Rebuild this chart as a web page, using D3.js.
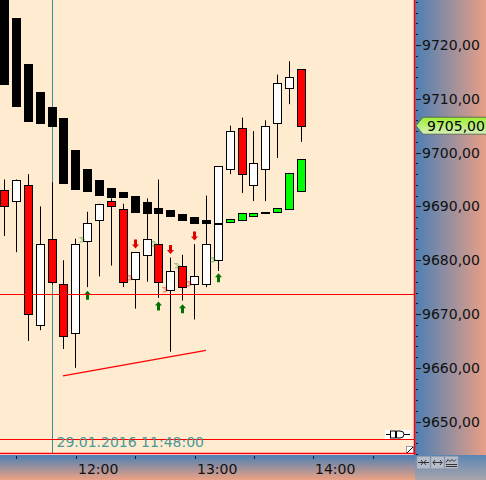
<!DOCTYPE html>
<html><head><meta charset="utf-8">
<script src="https://cdn.jsdelivr.net/npm/d3@7"></script>
<style>body{margin:0;background:#fff}svg{display:block}</style>
</head><body><svg id="c" width="486" height="480"></svg>
<script>
// ---------- data ----------
const barTimes = ["11:24","11:30","11:36","11:42","11:48","11:54","12:00","12:06","12:12","12:18","12:24","12:30","12:36","12:42","12:48","12:54","13:00","13:06","13:12","13:18","13:24","13:30","13:36","13:42","13:48","13:54"];
const opens  = [9693.0,9691.0,9694.0,9668.0,9684.0,9675.5,9666.5,9683.5,9687.5,9691.0,9689.5,9676.5,9681.0,9683.0,9674.5,9679.0,9675.5,9675.5,9680.0,9697.0,9704.5,9694.0,9697.0,9705.5,9712.0,9715.5];
const highs  = [9695.0,9695.0,9696.0,9690.0,9694.5,9680.0,9684.0,9689.0,9690.5,9691.5,9690.5,9681.5,9691.5,9695.0,9680.5,9681.0,9683.0,9692.0,9697.5,9705.0,9706.5,9704.0,9706.0,9714.5,9717.0,9715.5];
const lows   = [9684.5,9681.5,9665.0,9667.0,9675.5,9663.5,9660.0,9675.0,9677.0,9679.0,9675.0,9671.0,9676.0,9673.0,9663.0,9672.5,9669.0,9675.0,9678.0,9696.0,9692.5,9691.0,9691.0,9699.0,9709.0,9702.0];
const closes = [9690.0,9695.0,9670.0,9683.0,9676.0,9666.0,9683.0,9687.0,9690.5,9690.0,9676.0,9681.5,9684.0,9676.0,9678.0,9675.0,9677.0,9683.0,9697.5,9704.0,9696.0,9698.0,9705.0,9713.0,9714.0,9705.0];
// indicator band (box top / bottom) and its direction
const bandTops    = [9730.0,9725.0,9716.5,9711.25,9708.5,9706.5,9700.5,9697.0,9695.0,9693.5,9692.75,9692.0,9690.75,9689.75,9689.25,9688.5,9688.0,9687.5,9687.0,9687.75,9688.75,9688.75,9689.0,9689.75,9696.25,9698.75];
const bandBottoms = [9712.5,9708.5,9705.75,9705.25,9704.75,9694.25,9693.0,9692.75,9692.0,9691.5,9691.5,9688.75,9688.5,9688.5,9688.0,9687.25,9686.75,9686.75,9686.75,9687.0,9687.25,9688.0,9688.5,9688.75,9689.25,9692.75];
const bandDir = ["down","down","down","down","down","down","down","down","down","down","down","down","down","down","down","down","down","down","down","up","up","up","up","up","up","up"];
// signal arrows
const upArrowBars = [7,13,15,18];
const upArrowPrices = [9673.5,9671.5,9671.0,9676.75];
const downArrowBars = [11,14,16];
const downArrowPrices = [9683.0,9682.0,9684.5];
// small chevron markers
const chevBars = [6,10,12,13,14,15,17];
const chevPrices = [9683.75,9676.75,9683.0,9674.5,9679.0,9675.5,9680.0];
const chevKind = ["up","down","up","down","up","down","up"];
// drawings
const hLinePrices = [9673.7, 9646.8];
const trendTimes = ["11:53:30","13:05:45"];
const trendPrices = [9658.5, 9663.25];
const crossTime = "11:48";
const crossLabel = "29.01.2016 11:48:00";
const yMajorTicks = [9650,9660,9670,9680,9690,9700,9710,9720];
const xDomainTimes = ["11:21:44","14:50:49"];
const yDomain = [9643.99, 9728.36];

// ---------- helpers ----------
const day = (s) => { const p = s.split(":").map(Number); return new Date(2016,0,29,p[0],p[1],p[2]||0); };
const fmt = v => d3.format(".2f")(v).replace(".", ",");
const W = 486, H = 480, PW = 414, PH = 454;
const svg = d3.select("#c");
const x = d3.scaleTime().domain(xDomainTimes.map(day)).range([0, PW]);
const y = d3.scaleLinear().domain(yDomain).range([PH, 0]);
const dates = barTimes.map(day);
const step = x(d3.timeMinute.offset(dates[0], 6)) - x(dates[0]);
const left = d => Math.round(x(d) - 4.5);
const FONT = "DejaVu Sans";

const defs = svg.append("defs");
const g1 = defs.append("linearGradient").attr("id","gRight").attr("x1","0").attr("x2","1").attr("y1","0").attr("y2","0");
g1.append("stop").attr("offset","0").attr("stop-color","#4a7fb5");
g1.append("stop").attr("offset","1").attr("stop-color","#e99f86");
const g2 = defs.append("linearGradient").attr("id","gBottom").attr("x1","0").attr("x2","0").attr("y1","0").attr("y2","1");
g2.append("stop").attr("offset","0").attr("stop-color","#4a7fb5");
g2.append("stop").attr("offset","1").attr("stop-color","#eda284");
const g3 = defs.append("linearGradient").attr("id","gCorner").attr("x1","0").attr("x2","0").attr("y1","0").attr("y2","1");
g3.append("stop").attr("offset","0").attr("stop-color","#5a86b2");
g3.append("stop").attr("offset","1").attr("stop-color","#a9a5ad");
const g4 = defs.append("linearGradient").attr("id","gTag").attr("x1","0").attr("x2","0").attr("y1","0").attr("y2","1");
g4.append("stop").attr("offset","0").attr("stop-color","#9bef32");
g4.append("stop").attr("offset","1").attr("stop-color","#d6efb8");
defs.append("clipPath").attr("id","plotClip").append("rect").attr("x",0).attr("y",0).attr("width",PW).attr("height",PH);

// ---------- backgrounds ----------
svg.append("rect").attr("x",0).attr("y",0).attr("width",PW).attr("height",PH).attr("fill","#feebd0");
svg.append("rect").attr("x",PW).attr("y",0).attr("width",W-PW).attr("height",PH+1).attr("fill","url(#gRight)");
svg.append("rect").attr("x",0).attr("y",PH+1).attr("width",PW+1).attr("height",H-PH-1).attr("fill","url(#gBottom)");
svg.append("rect").attr("x",PW+1).attr("y",PH+1).attr("width",W-PW-1).attr("height",H-PH-1).attr("fill","url(#gCorner)");

const plot = svg.append("g").attr("clip-path","url(#plotClip)");

// crosshair (behind)
const cx0 = Math.round(x(day(crossTime))) + 0.5;
plot.append("line").attr("x1",cx0).attr("x2",cx0).attr("y1",0).attr("y2",PH).attr("stroke","#3a8c96").attr("stroke-width",1);

// candles
const candles = plot.append("g");
dates.forEach((d,i) => {
  const lx = left(d);
  const up = closes[i] >= opens[i];
  candles.append("line").attr("x1",lx+4.5).attr("x2",lx+4.5)
    .attr("y1",y(highs[i])).attr("y2",y(lows[i])).attr("stroke","#000").attr("stroke-width",1);
  const top = y(Math.max(opens[i],closes[i])), bot = y(Math.min(opens[i],closes[i]));
  candles.append("rect").attr("x",lx+0.5).attr("width",8)
    .attr("y",Math.round(top)+0.5).attr("height",Math.max(1,Math.round(bot)-Math.round(top)))
    .attr("fill", up ? "#ffffff" : "#ff0000").attr("stroke","#000").attr("stroke-width",1);
});

// band boxes (drawn over candles)
const band = plot.append("g");
dates.forEach((d,i) => {
  const lx = left(d);
  const t = Math.round(y(bandTops[i])), b = Math.round(y(bandBottoms[i]));
  if (bandDir[i] === "down") {
    band.append("rect").attr("x",lx).attr("width",9).attr("y",t).attr("height",Math.max(2,b-t)).attr("fill","#000");
  } else {
    band.append("rect").attr("x",lx+0.5).attr("width",8).attr("y",t+0.5).attr("height",Math.max(1,b-t-1))
      .attr("fill","#00ff00").attr("stroke","#000").attr("stroke-width",1);
  }
});

// arrows
const arrows = plot.append("g");
function arrow(cx, cy, dir, color) {
  const s = dir === "up" ? 1 : -1;
  // head triangle then shaft
  const p = [[cx, cy-4.5*s],[cx+3.5, cy-0.5*s],[cx+1.5, cy-0.5*s],[cx+1.5, cy+4.5*s],[cx-1.5, cy+4.5*s],[cx-1.5, cy-0.5*s],[cx-3.5, cy-0.5*s]];
  arrows.append("path").attr("d", d3.line()(p) + "Z").attr("fill", color);
}
upArrowBars.forEach((b,k) => arrow(left(dates[b])+4.5, y(upArrowPrices[k]), "up", "#007000"));
downArrowBars.forEach((b,k) => arrow(left(dates[b])+4.5, y(downArrowPrices[k]), "down", "#e00000"));

// chevrons
const chev = plot.append("g");
chevBars.forEach((b,k) => {
  const cx = left(dates[b]) + 8.5, cy = Math.round(y(chevPrices[k]));
  const col = chevKind[k] === "up" ? "#1f9a1f" : "#e81010";
  [0,2].forEach(o => {
    chev.append("path").attr("d", `M${cx+o},${cy-3}L${cx+o+3},${cy}L${cx+o},${cy+3}`)
      .attr("fill","none").attr("stroke",col).attr("stroke-width",1).attr("stroke-dasharray","1.2,0.8");
  });
});

// horizontal lines
hLinePrices.forEach(p => {
  const yy = Math.round(y(p)) + 0.5;
  plot.append("line").attr("x1",0).attr("x2",PW).attr("y1",yy).attr("y2",yy).attr("stroke","#ff0000").attr("stroke-width",1.2);
});
// trend line
plot.append("line")
  .attr("x1",x(day(trendTimes[0]))).attr("y1",y(trendPrices[0]))
  .attr("x2",x(day(trendTimes[1]))).attr("y2",y(trendPrices[1]))
  .attr("stroke","#ff0000").attr("stroke-width",1.3);

// crosshair date label
plot.append("text").attr("x",cx0+4).attr("y",447).attr("font-family",FONT).attr("font-size",14)
  .attr("fill","#4a9898").text(crossLabel);

// horizontal line marker (-□D-)
const my = Math.round(y(hLinePrices[1]));
const mk = svg.append("g");
mk.append("rect").attr("x",385).attr("y",my-9).attr("width",26).attr("height",9).attr("fill","#fff");
mk.append("path").attr("d",`M386,${my-4.5}H390M404,${my-4.5}H410`).attr("stroke","#000").attr("stroke-width",1);
mk.append("rect").attr("x",390.5).attr("y",my-8).attr("width",5).attr("height",7).attr("fill","none").attr("stroke","#000");
mk.append("path").attr("d",`M396.5,${my-8}H400Q404,${my-8} 404,${my-4.5}Q404,${my-1} 400,${my-1}H396.5Z`).attr("fill","none").attr("stroke","#000");
// resize corner icon
svg.append("rect").attr("x",406.5).attr("y",446.5).attr("width",7).attr("height",7).attr("fill","#fff").attr("stroke","#999");
svg.append("path").attr("d","M407,453L413,447").attr("stroke","#000");

// plot border
svg.append("line").attr("x1",PW+0.5).attr("x2",PW+0.5).attr("y1",0).attr("y2",PH+1).attr("stroke","#ff0000").attr("stroke-width",1.5);
svg.append("line").attr("x1",0).attr("x2",PW+1).attr("y1",PH-0.5).attr("y2",PH-0.5).attr("stroke","#ff0000").attr("stroke-width",1.5);

// ---------- right axis ----------
const ra = svg.append("g");
d3.range(Math.ceil(yDomain[0]/2)*2, yDomain[1], 2).forEach(v => {
  const yy = Math.round(y(v)) + 0.5;
  const major = v % 10 === 0;
  ra.append("line").attr("x1",PW+2).attr("x2",PW + (major ? 7 : 4)).attr("y1",yy).attr("y2",yy).attr("stroke","#1a1a2a");
});
yMajorTicks.forEach(v => {
  ra.append("text").attr("x",PW+8).attr("y",y(v)).attr("dy","0.36em").attr("font-family",FONT).attr("font-size",14)
    .attr("fill","#111").text(fmt(v));
});
// last price tag
const ty = y(closes[closes.length-1]);
ra.append("path").attr("d",`M${PW+2},${ty}L${PW+9},${ty-8.5}H${W+2}V${ty+8.5}H${PW+9}Z`)
  .attr("fill","url(#gTag)").attr("stroke","#4d5a40").attr("stroke-width",0.8);
ra.append("text").attr("x",PW+13).attr("y",ty).attr("dy","0.36em").attr("font-family",FONT).attr("font-size",14)
  .attr("fill","#000").text(fmt(closes[closes.length-1]));

// ---------- bottom axis ----------
const ba = svg.append("g");
x.ticks(d3.timeMinute.every(30)).forEach(t => {
  const xx = Math.round(x(t)) + 0.5;
  ba.append("line").attr("x1",xx).attr("x2",xx).attr("y1",PH+2).attr("y2",PH+5).attr("stroke","#1a1a2a");
  if (t.getMinutes() === 0) {
    ba.append("text").attr("x",xx+1.5).attr("y",474).attr("font-family",FONT).attr("font-size",14)
      .attr("fill","#111").text(d3.timeFormat("%H:%M")(t));
  }
});

// ---------- corner buttons ----------
const btn = svg.append("g");
[417,431,445].forEach((bx,k) => {
  btn.append("rect").attr("x",bx).attr("y",456.5).attr("width",13).attr("height",12).attr("fill","#b7bccb").attr("stroke","#9aa0b0").attr("stroke-width",0.6);
  const cy = 462.5;
  let d;
  if (k === 0) d = `M${bx+1},${cy}H${bx+12}M${bx+4},${cy-2.5}L${bx+6},${cy}L${bx+4},${cy+2.5}M${bx+9},${cy-2.5}L${bx+7},${cy}L${bx+9},${cy+2.5}`;
  else if (k === 1) d = `M${bx+2},${cy}H${bx+11}M${bx+4},${cy-2.5}L${bx+2},${cy}L${bx+4},${cy+2.5}M${bx+9},${cy-2.5}L${bx+11},${cy}L${bx+9},${cy+2.5}`;
  else d = `M${bx+1},${cy}L${bx+3},${cy-3}L${bx+5},${cy-1}L${bx+7},${cy-3}L${bx+9},${cy-1}L${bx+11},${cy-3}M${bx+1},${cy+2}H${bx+12}M${bx+1},${cy+4}H${bx+12}`;
  btn.append("path").attr("d",d).attr("fill","none").attr("stroke","#222").attr("stroke-width",0.9);
});
</script></body></html>
